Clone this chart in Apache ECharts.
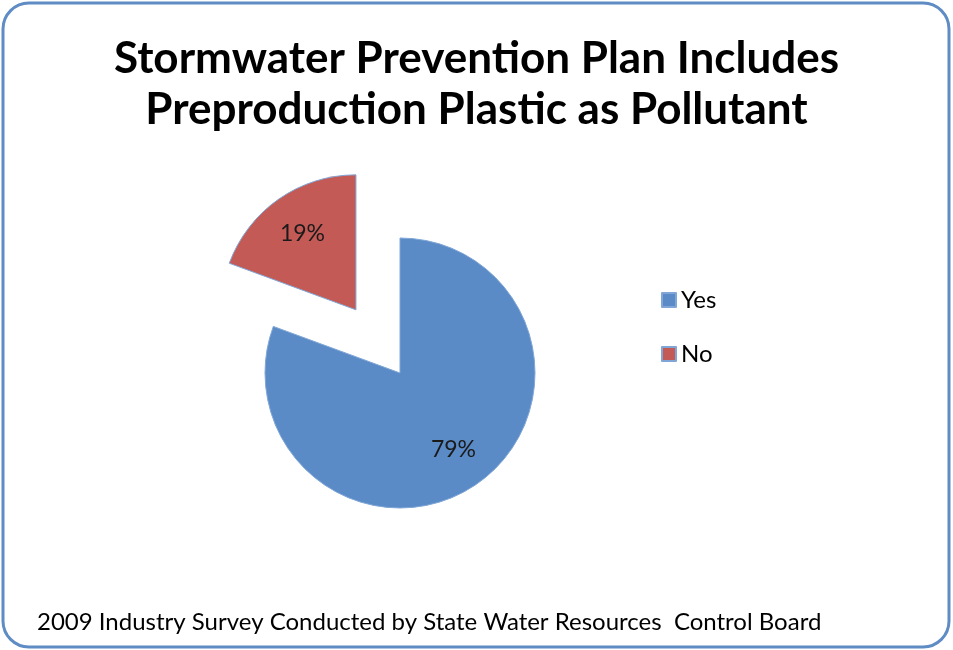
<!DOCTYPE html>
<html>
<head>
<meta charset="utf-8">
<script src="https://cdn.jsdelivr.net/npm/echarts@6/dist/echarts.min.js"></script>
<style>html,body{margin:0;padding:0;background:#fff;}#c{width:953px;height:650px;}</style>
</head>
<body>
<div id="c"></div>
<script>
const categories = ['Yes', 'No'];
const values = [79, 19];
const colors = ['#5B8BC7', '#C45A56'];
const titleLines = ['Stormwater Prevention Plan Includes', 'Preproduction Plastic as Pollutant'];
const footnote = '2009 Industry Survey Conducted by State Water Resources  Control Board';
const explodedCategory = 'No';

const chart = echarts.init(document.getElementById('c'));
const FONT = 'Lato';
const center = [400, 373];
const R = 135;
const offset = 77;

function mkData(withColor) {
  return categories.map((c, i) => ({
    name: c,
    value: values[i],
    selected: c === explodedCategory,
    itemStyle: withColor ? { color: colors[i], borderColor: '#7FA6D6', borderWidth: 1 } : { color: 'rgba(0,0,0,0)', borderWidth: 0 }
  }));
}

chart.setOption({
  animation: false,
  graphic: [{
    type: 'rect',
    shape: { x: 3, y: 3, width: 946, height: 644, r: 26 },
    style: { fill: 'none', stroke: '#5F8CC4', lineWidth: 3 },
    z: 0
  }],
  title: [{
    text: titleLines.join('\n'),
    left: 'center',
    top: 28,
    textStyle: { fontFamily: FONT, fontWeight: 'bold', fontSize: 44, lineHeight: 51, color: '#000' }
  }, {
    text: footnote,
    left: 32,
    top: 605,
    textStyle: { fontFamily: FONT, fontWeight: 'normal', fontSize: 24, color: '#000' }
  }],
  legend: {
    orient: 'vertical',
    left: 656,
    top: 283,
    icon: 'rect',
    itemWidth: 14,
    itemHeight: 14,
    itemGap: 30,
    data: categories,
    textStyle: { fontFamily: FONT, fontSize: 24, color: '#000' },
    selectedMode: false
  },
  series: [{
    type: 'pie',
    center: center,
    radius: R,
    startAngle: 90,
    clockwise: true,
    selectedMode: 'single',
    selectedOffset: offset,
    label: { show: false },
    labelLine: { show: false },
    emphasis: { disabled: true },
    silent: true,
    data: mkData(true)
  }, {
    type: 'pie',
    center: center,
    radius: [46, R],
    startAngle: 90,
    clockwise: true,
    selectedMode: 'single',
    selectedOffset: offset,
    silent: true,
    emphasis: { disabled: true },
    label: {
      show: true,
      position: 'inside',
      formatter: p => p.value + '%',
      fontFamily: FONT,
      fontSize: 23,
      color: '#1a1a1a'
    },
    labelLine: { show: false },
    data: mkData(false),
    z: 3
  }]
});
</script>
</body>
</html>
